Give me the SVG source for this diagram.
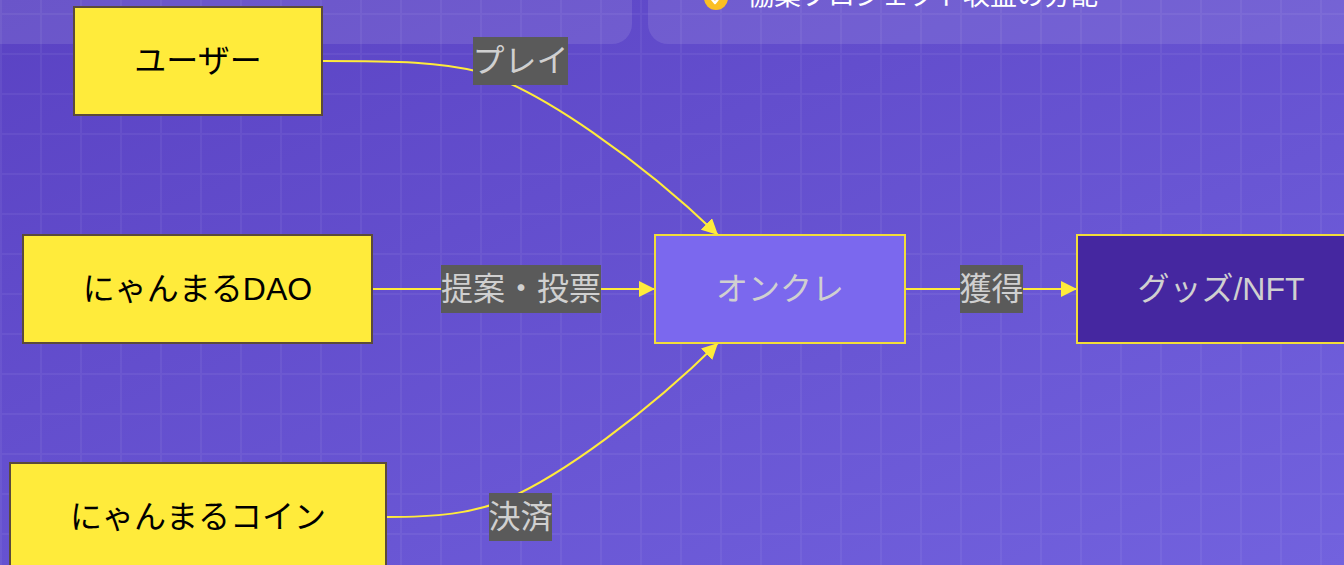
<svg xmlns="http://www.w3.org/2000/svg" width="1344" height="565" viewBox="0 0 1344 565">
<defs>
<linearGradient id="bg" x1="0" y1="0" x2="1" y2="1">
<stop offset="0" stop-color="#5a42c3"/>
<stop offset="1" stop-color="#7262de"/>
</linearGradient>
<pattern id="grid" width="40" height="40" patternUnits="userSpaceOnUse" x="0" y="13">
<path d="M0,1 H40 M1,0 V40" stroke="#ffffff" stroke-opacity="0.05" stroke-width="2" fill="none"/>
</pattern>
<marker id="arr" markerUnits="userSpaceOnUse" markerWidth="16" markerHeight="16" refX="16" refY="8" orient="auto" viewBox="0 0 16 16">
<path d="M0,0 L16,8 L0,16 z" fill="#ffeb3b"/>
</marker>
<style>
.txt{font-family:"Liberation Sans","Noto Sans CJK JP",sans-serif;font-size:32px;text-anchor:middle;dominant-baseline:central}
.ynode{fill:#ffeb3b;stroke:#5b4a3a;stroke-width:2}
.pnode{stroke:#f2dd3a;stroke-width:2}
.dark{fill:#000}
.light{fill:#d0d0d0}
.edge{fill:none;stroke:#ffeb3b;stroke-width:2}
.lbl{fill:#5a5a5a}
.panel{fill:#ffffff;fill-opacity:0.1}
</style>
</defs>
<rect width="1344" height="565" fill="url(#bg)"/>
<rect width="1344" height="565" fill="url(#grid)"/>
<g id="panels">
<rect class="panel" x="-40" y="-80" width="672" height="124" rx="20"/>
<rect class="panel" x="648" y="-80" width="740" height="124" rx="20"/>
<circle cx="716" cy="-2" r="12" fill="#fbbf24"/>
<path d="M711,-2 L715,3 L722,-6" fill="none" stroke="#ffffff" stroke-width="2.5" stroke-linecap="round" stroke-linejoin="round"/>
<text x="747" y="5" font-family="'Noto Sans CJK JP',sans-serif" font-size="27" fill="#ffffff">協業プロジェクト収益の分配</text>
</g>
<g id="connectors">
<path class="edge" d="M322,61 C400,61 440,62 480,72 C540,90 640,160 718,235" marker-end="url(#arr)"/>
<path class="edge" d="M372,289 H655" marker-end="url(#arr)"/>
<path class="edge" d="M386,517 C440,517 470,513 500,502 C560,478 650,410 718,343" marker-end="url(#arr)"/>
<path class="edge" d="M905,289 H1077" marker-end="url(#arr)"/>
<g id="label-play"><rect class="lbl" x="473" y="37" width="95" height="48"/><text class="txt light" x="520.5" y="61">プレイ</text></g>
<g id="label-vote"><rect class="lbl" x="441" y="265" width="160" height="48"/><text class="txt light" x="521" y="289">提案・投票</text></g>
<g id="label-get"><rect class="lbl" x="960" y="265" width="63" height="48"/><text class="txt light" x="991.5" y="289">獲得</text></g>
<g id="label-pay"><rect class="lbl" x="489" y="493" width="63" height="48"/><text class="txt light" x="520.5" y="517">決済</text></g>
</g>
<g id="user">
<rect class="ynode" x="74" y="7" width="248" height="108"/>
<text class="txt dark" x="198" y="61">ユーザー</text>
</g>
<g id="dao">
<rect class="ynode" x="23" y="235" width="349" height="108"/>
<text class="txt dark" x="197.5" y="289">にゃんまるDAO</text>
</g>
<g id="coin">
<rect class="ynode" x="10" y="463" width="376" height="108"/>
<text class="txt dark" x="198" y="517">にゃんまるコイン</text>
</g>
<g id="onkure">
<rect class="pnode" x="655" y="235" width="250" height="108" fill="#7b68ee"/>
<text class="txt light" x="780" y="289">オンクレ</text>
</g>
<g id="goods">
<rect class="pnode" x="1077" y="235" width="288" height="108" fill="#4527a0"/>
<text class="txt light" x="1221" y="289">グッズ/NFT</text>
</g>
</svg>
